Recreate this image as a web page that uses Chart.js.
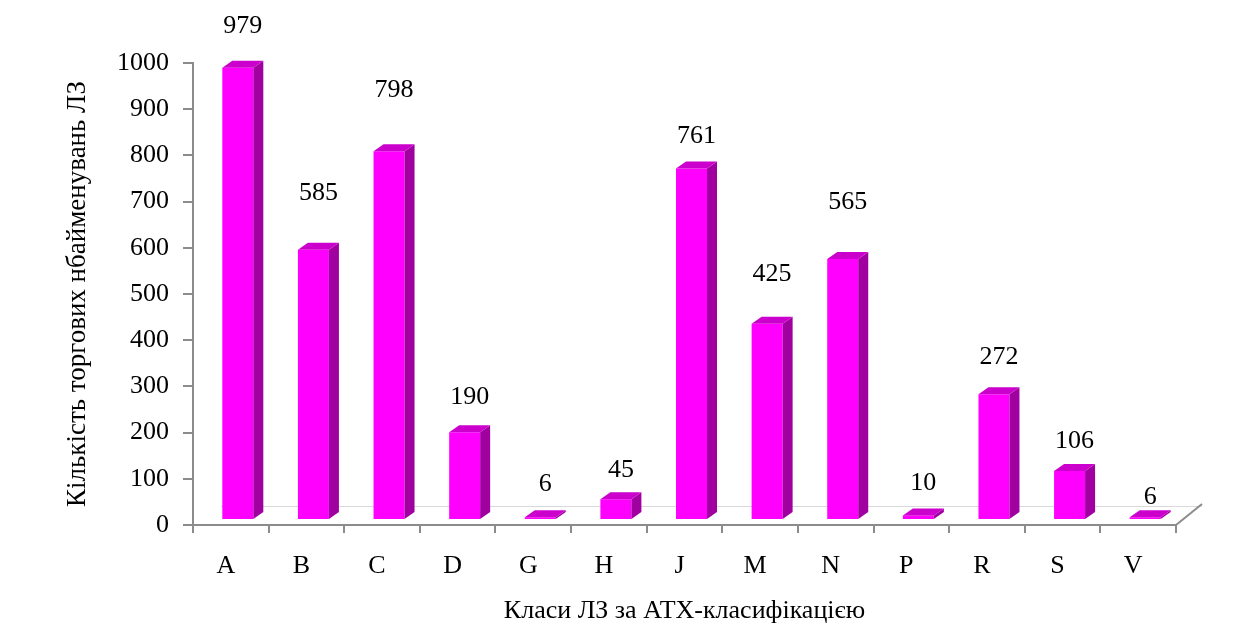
<!DOCTYPE html>
<html>
<head>
<meta charset="utf-8">
<script src="https://cdn.jsdelivr.net/npm/chart.js@4.4.0/dist/chart.umd.min.js"></script>
<style>
  html, body { margin: 0; padding: 0; background: #fff; }
  #wrap { width: 1256px; height: 632px; }
</style>
</head>
<body>
<div id="wrap"><canvas id="atcChart" width="1256" height="632"></canvas></div>
<script>
// класи АТХ та кількість торгових найменувань
const classes = ["A", "B", "C", "D", "G", "H", "J", "M", "N", "P", "R", "S", "V"];
const counts = [979, 585, 798, 190, 6, 45, 761, 425, 565, 10, 272, 106, 6];
// наскільки підписи піднято над стовпчиками (px)
const valueLabelLift = [42, 57, 61, 35, 33, 29, 32, 49, 57, 32, 37, 30, 20];

const yTitle = "Кількість торгових нбайменувань ЛЗ";
const xTitle = "Класи ЛЗ за АТХ-класифікацією";

const FONT = "'Liberation Serif', 'Times New Roman', serif";
const FONT_SIZE = 26;
const AXIS_GREY = "#8c8c8c";

// зсув передньої грані та глибина "3D"
const SHIFT_X = 7, SHIFT_Y = -5;
const DEPTH_X = 10, DEPTH_Y = -7;

const bars3d = {
  id: "bars3d",
  beforeDatasetsDraw(chart) {
    const { ctx, chartArea } = chart;
    // підлога
    ctx.save();
    ctx.lineWidth = 1;
    ctx.strokeStyle = "#d9d9d9";
    ctx.beginPath();
    ctx.moveTo(chartArea.left + 28, chartArea.bottom - 18.5);
    ctx.lineTo(chartArea.right + 26, chartArea.bottom - 18.5);
    ctx.stroke();
    ctx.strokeStyle = AXIS_GREY;
    ctx.lineWidth = 2;
    ctx.beginPath();
    ctx.moveTo(chartArea.right, chartArea.bottom);
    ctx.lineTo(chartArea.right + 26, chartArea.bottom - 21);
    ctx.stroke();
    ctx.restore();

    ctx.save();
    ctx.translate(SHIFT_X, SHIFT_Y);
  },
  afterDatasetsDraw(chart) {
    const { ctx } = chart;
    const meta = chart.getDatasetMeta(0);
    meta.data.forEach((bar) => {
      const p = bar.getProps(["x", "y", "base", "width"], true);
      const l = p.x - p.width / 2, r = p.x + p.width / 2;
      const top = Math.min(p.y, p.base), bottom = Math.max(p.y, p.base);
      // бічна грань
      ctx.fillStyle = "#a000a0";
      ctx.beginPath();
      ctx.moveTo(r, top);
      ctx.lineTo(r + DEPTH_X, top + DEPTH_Y);
      ctx.lineTo(r + DEPTH_X, bottom + DEPTH_Y);
      ctx.lineTo(r, bottom);
      ctx.closePath();
      ctx.fill();
      // верхня грань
      ctx.fillStyle = "#cc00cc";
      ctx.beginPath();
      ctx.moveTo(l, top);
      ctx.lineTo(l + DEPTH_X, top + DEPTH_Y);
      ctx.lineTo(r + DEPTH_X, top + DEPTH_Y);
      ctx.lineTo(r, top);
      ctx.closePath();
      ctx.fill();
    });
    ctx.restore();

    // підписи значень
    ctx.save();
    ctx.fillStyle = "#000";
    ctx.font = FONT_SIZE + "px " + FONT;
    ctx.textAlign = "center";
    ctx.textBaseline = "middle";
    meta.data.forEach((bar, i) => {
      const x = bar.x + SHIFT_X + DEPTH_X / 2;
      const y = bar.y + SHIFT_Y - valueLabelLift[i];
      ctx.fillText(String(counts[i]), x, y);
    });
    ctx.restore();
  }
};

new Chart(document.getElementById("atcChart"), {
  type: "bar",
  data: {
    labels: classes,
    datasets: [{
      data: counts,
      backgroundColor: "#ff00ff",
      borderWidth: 0,
      barPercentage: 0.41,
      categoryPercentage: 1
    }]
  },
  options: {
    responsive: false,
    animation: false,
    layout: { padding: { top: 63, right: 80, left: 0, bottom: 0 } },
    plugins: {
      legend: { display: false },
      tooltip: { enabled: false }
    },
    scales: {
      x: {
        grid: {
          offset: true,
          drawOnChartArea: false,
          color: AXIS_GREY,
          lineWidth: 2,
          tickLength: 8
        },
        border: { color: AXIS_GREY, width: 2 },
        ticks: {
          color: "#000",
          padding: 18,
          labelOffset: -5,
          font: { family: FONT, size: FONT_SIZE }
        },
        title: {
          display: true,
          text: xTitle,
          color: "#000",
          font: { family: FONT, size: FONT_SIZE },
          padding: { top: 0, bottom: 5 }
        },
        afterFit(scale) { scale.height = 107; }
      },
      y: {
        min: 0,
        max: 1000,
        ticks: {
          stepSize: 100,
          color: "#000",
          padding: 14,
          font: { family: FONT, size: FONT_SIZE },
          callback: (v) => String(v)
        },
        grid: {
          drawOnChartArea: false,
          color: AXIS_GREY,
          lineWidth: 2,
          tickLength: 10
        },
        border: { color: AXIS_GREY, width: 2 },
        title: {
          display: true,
          text: yTitle,
          color: "#000",
          font: { family: FONT, size: 27 },
          padding: { top: 62, bottom: 0 }
        },
        afterFit(scale) { scale.width = 193; }
      }
    }
  },
  plugins: [bars3d]
});
</script>
</body>
</html>
